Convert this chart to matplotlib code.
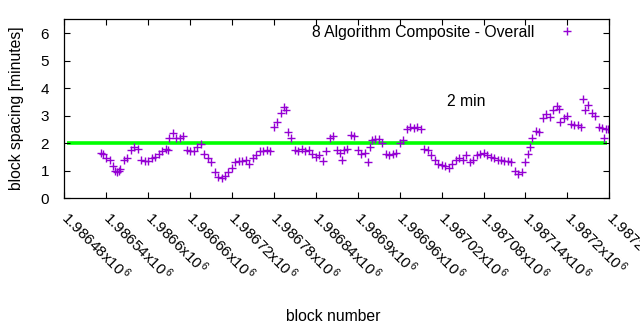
import matplotlib
matplotlib.use("Agg")
import matplotlib.pyplot as plt

plt.rcParams['font.family'] = ['Liberation Sans', 'DejaVu Sans']
plt.rcParams['mathtext.fontset'] = 'custom'
plt.rcParams['mathtext.rm'] = 'Liberation Sans'
plt.rcParams['mathtext.it'] = 'Liberation Sans'
plt.rcParams['mathtext.bf'] = 'Liberation Sans'

# block offsets from 1986480 and block spacing values [minutes]
offsets = [52, 55, 60, 65, 70, 72, 75, 78, 80, 85, 90, 95, 100, 105, 110, 115, 120, 125,
           130, 135, 140, 145, 148, 150, 155, 160, 165, 170, 175, 180, 185, 190, 195, 200,
           205, 210, 215, 220, 225, 230, 235, 240, 245, 250, 255, 260, 265, 270, 275, 280,
           285, 290, 295, 300, 305, 310, 315, 318, 320, 325, 330, 335, 340, 345, 350, 355,
           360, 365, 370, 375, 380, 385, 390, 395, 397, 400, 405, 410, 415, 420, 425, 430, 435,
           437, 440, 445, 450, 455, 460, 465, 470, 475, 480, 485, 490, 495, 500, 505, 510,
           515, 520, 525, 530, 535, 540, 545, 550, 555, 560, 565, 570, 575, 580, 585, 590,
           595, 600, 605, 610, 615, 620, 625, 630, 635, 640, 645, 650, 655, 660, 663, 667,
           670, 675, 680, 685, 690, 695, 700, 705, 708, 710, 715, 720, 725, 730, 735, 740,
           742, 745, 750, 755, 760, 765, 770, 772, 775, 778]
spacing = [1.65, 1.6, 1.45, 1.4, 1.15, 1.0, 0.95, 1.0, 1.05, 1.4, 1.45, 1.75, 1.85, 1.8, 1.4,
           1.35, 1.35, 1.45, 1.5, 1.6, 1.7, 1.8, 1.75, 2.2, 2.35, 2.2, 2.2, 2.25, 1.75, 1.7,
           1.7, 1.85, 1.95, 1.6, 1.45, 1.3, 0.95, 0.75, 0.72, 0.8, 0.95, 1.1, 1.3, 1.35, 1.35,
           1.4, 1.25, 1.45, 1.55, 1.7, 1.7, 1.75, 1.7, 2.6, 2.75, 3.1, 3.3, 3.2, 2.4, 2.2,
           1.75, 1.7, 1.8, 1.7, 1.75, 1.6, 1.5, 1.55, 1.35, 1.7, 2.2, 2.25, 1.75, 1.65, 1.4, 1.75,
           1.8, 2.3, 2.25, 1.75, 1.6, 1.65, 1.3, 1.85, 2.1, 2.15, 2.15, 2.0, 1.6, 1.55, 1.6,
           1.65, 2.0, 2.1, 2.5, 2.6, 2.55, 2.6, 2.5, 1.8, 1.75, 1.55, 1.4, 1.25, 1.2, 1.15,
           1.1, 1.25, 1.4, 1.45, 1.4, 1.55, 1.3, 1.4, 1.55, 1.6, 1.65, 1.55, 1.5, 1.45, 1.4,
           1.4, 1.35, 1.35, 1.3, 1.0, 0.88, 0.95, 1.3, 1.6, 1.85, 2.2, 2.45, 2.4, 2.9, 3.05,
           2.95, 3.2, 3.35, 3.25, 2.75, 2.9, 3.0, 2.7, 2.65, 2.65, 2.6, 3.6, 3.2, 3.4, 3.1, 3.0,
           2.6, 2.55, 2.2, 2.5, 2.5]
base_block = 1986480
blocks = [base_block + o for o in offsets]

target = 2.0
tick_blocks = [1986480 + 60 * i for i in range(14)]
tick_labels = ["%gx10$^{\\,6}$" % (b / 1e6) for b in tick_blocks]
series_label = "8 Algorithm Composite - Overall"

FS = 11.3

fig = plt.figure(figsize=(6.4, 3.3), dpi=100)
ax = fig.add_axes([64.3 / 640, 1 - 198 / 330, (609.3 - 64.3) / 640, (198 - 19.3) / 330])

ax.plot([base_block + 4, base_block + 776], [target, target], color='#00ff00', lw=2.6,
        solid_capstyle='butt', zorder=1)
ax.plot(blocks, spacing, linestyle='none', marker='+', color='#9400d3', markersize=6.2,
        markeredgewidth=1.0, label=series_label, zorder=2)

ax.set_xlim(1986480, 1987260)
ax.set_ylim(0, 6.5)
ax.set_yticks([0, 1, 2, 3, 4, 5, 6])
ax.set_xticks(tick_blocks)
ax.set_xticklabels(tick_labels, rotation=-45, ha='left', va='center', rotation_mode='anchor')
ax.tick_params(direction='in', length=4, width=0.8, top=True, right=True, labelsize=11,
               colors='black')
ax.tick_params(axis='y', pad=11)
ax.tick_params(axis='x', pad=12)
for s in ax.spines.values():
    s.set_linewidth(0.9)

ax.text(1987028, 3.51, "2 min", fontsize=FS, ha='left', va='center')
ax.set_ylabel("block spacing [minutes]", fontsize=FS)
ax.yaxis.set_label_coords(-0.074, 0.5)
ax.set_xlabel("block number", fontsize=FS)
ax.xaxis.set_label_coords(0.494, -0.62)

leg = ax.legend(loc='upper right', frameon=False, markerfirst=False, fontsize=FS,
                handletextpad=1.6, borderaxespad=0.0, borderpad=0.4,
                bbox_to_anchor=(0.949, 1.005), handlelength=1.0)

fig.savefig("out.png", dpi=100)
